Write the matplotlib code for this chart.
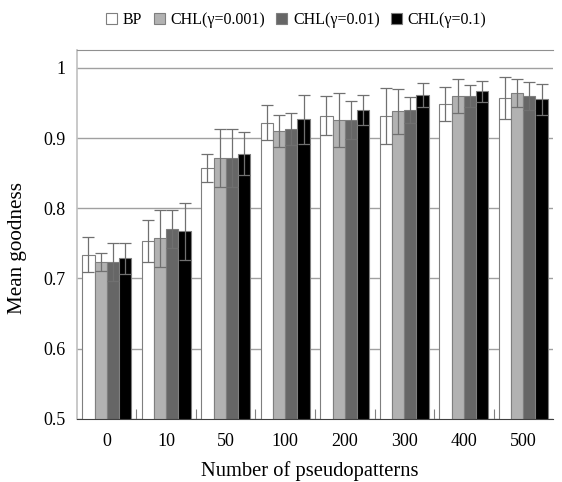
import numpy as np
import matplotlib
matplotlib.use('Agg')
import matplotlib.pyplot as plt

plt.rcParams['font.family'] = ['Liberation Serif', 'DejaVu Serif']

# data
categories = ['0', '10', '50', '100', '200', '300', '400', '500']
series = ['BP', 'CHL(γ=0.001)', 'CHL(γ=0.01)', 'CHL(γ=0.1)']

bp = [0.734, 0.753, 0.858, 0.922, 0.932, 0.932, 0.949, 0.957]
chl_001 = [0.723, 0.757, 0.872, 0.910, 0.926, 0.938, 0.960, 0.964]
chl_01 = [0.723, 0.770, 0.872, 0.913, 0.926, 0.940, 0.960, 0.960]
chl_1 = [0.729, 0.767, 0.878, 0.927, 0.940, 0.962, 0.967, 0.955]

bp_err = [0.025, 0.030, 0.020, 0.025, 0.028, 0.040, 0.024, 0.030]
chl_001_err = [0.013, 0.041, 0.041, 0.023, 0.038, 0.032, 0.024, 0.020]
chl_01_err = [0.027, 0.027, 0.041, 0.023, 0.027, 0.019, 0.015, 0.020]
chl_1_err = [0.022, 0.040, 0.031, 0.035, 0.022, 0.017, 0.015, 0.022]

values = [bp, chl_001, chl_01, chl_1]
errors = [bp_err, chl_001_err, chl_01_err, chl_1_err]
colors = ['white', '#b2b2b2', '#666666', 'black']

fig = plt.figure(figsize=(5.62, 4.82), dpi=100)
ax = fig.add_axes([0.137, 0.131, 0.847, 0.766])

x = np.arange(len(categories))
width = 0.205
for i, (vals, errs, c) in enumerate(zip(values, errors, colors)):
    pos = x + (i - 1.5) * width
    ax.bar(pos, vals, width, color=c, edgecolor='#7f7f7f', linewidth=0.8,
           label=series[i], zorder=2)
    ax.errorbar(pos, vals, yerr=errs, fmt='none', ecolor='#707070',
                elinewidth=0.9, capsize=4, capthick=0.9, zorder=3)

ax.set_ylim(0.5, 1.026)
ax.set_xlim(-0.5, len(categories) - 0.5)
ax.set_yticks([0.5, 0.6, 0.7, 0.8, 0.9, 1.0])
ax.set_yticklabels(['0.5', '0.6', '0.7', '0.8', '0.9', '1'], fontsize=13)
ax.yaxis.grid(True, color='#a0a0a0', linewidth=1.0, zorder=0)
ax.set_axisbelow(True)
ax.tick_params(axis='y', length=0, pad=8)

ax.set_xticks(x)
ax.set_xticklabels(categories, fontsize=13)
ax.set_xticks(x[:-1] + 0.5, minor=True)
ax.tick_params(axis='x', which='major', length=0, pad=10)
ax.tick_params(axis='x', which='minor', direction='in', length=7,
               color='#808080', width=0.8)

ax.spines['right'].set_visible(False)
ax.spines['top'].set_color('#909090')
ax.spines['left'].set_color('#c0c0c0')
ax.spines['left'].set_linewidth(1.2)
ax.spines['bottom'].set_color('#404040')

ax.set_ylabel('Mean goodness', fontsize=15.2)
ax.yaxis.set_label_coords(-0.104, 0.464)
ax.set_xlabel('Number of pseudopatterns', fontsize=14.8)
ax.xaxis.set_label_coords(0.489, -0.114)

fig.legend(loc='upper left', bbox_to_anchor=(95 / 562, 1 - 1 / 482), ncol=4,
           frameon=False, fontsize=11.5, handlelength=0.7, handleheight=0.7,
           handletextpad=0.35, columnspacing=0.7, borderaxespad=0.3)

fig.savefig('out.png', dpi=100)
